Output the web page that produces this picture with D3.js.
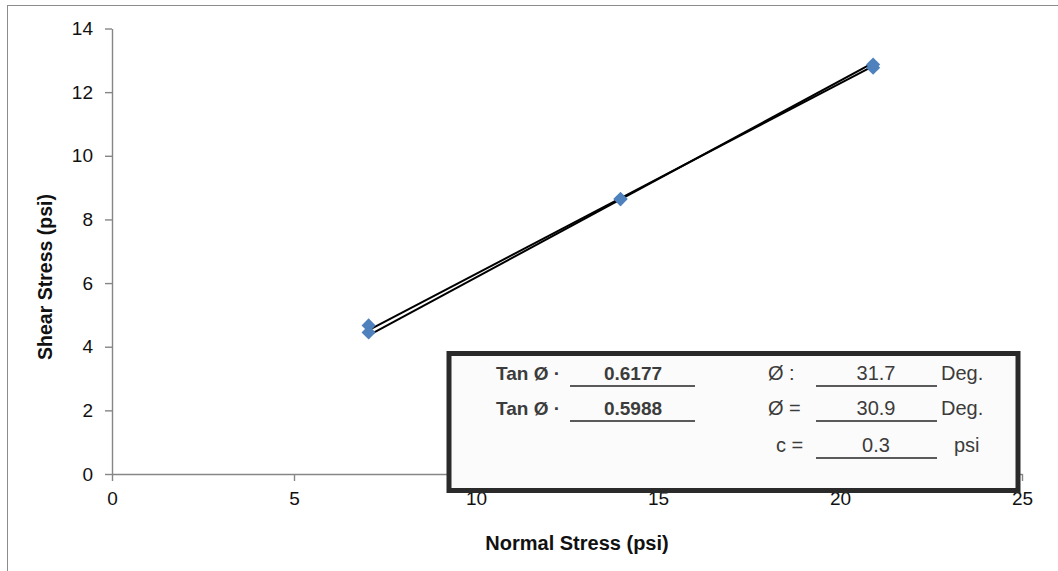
<!DOCTYPE html>
<html>
<head>
<meta charset="utf-8">
<script src="https://cdn.jsdelivr.net/npm/d3@7"></script>
<style>
  html, body { margin: 0; padding: 0; background: #fff; }
  svg { display: block; }
</style>
</head>
<body>
<svg id="chart" width="1058" height="571"></svg>
<script>
// Direct shear test results
const normalStress = [7.05, 13.97, 20.91];
const shearPeak = [4.67, 8.64, 12.87];
const shearResidual = [4.45, 8.64, 12.77];

// Strength envelopes: tan(phi) and cohesion c
const envTan = [0.6177, 0.5988];
const envC = [0, 0.3];
const envPhi = ["31.7", "30.9"];
const cohesionText = "0.3";

const xTicks = [0, 5, 10, 15, 20, 25];
const yTicks = [0, 2, 4, 6, 8, 10, 12, 14];

const svg = d3.select("#chart");
const font = "'Liberation Sans', Arial, sans-serif";

// Chart area frame
svg.append("rect")
  .attr("x", 7.5).attr("y", 5.5)
  .attr("width", 1100).attr("height", 600)
  .attr("fill", "none").attr("stroke", "#8c8c8c").attr("stroke-width", 1);

const x = d3.scaleLinear().domain([0, 25]).range([112, 1022]);
const y = d3.scaleLinear().domain([0, 14]).range([474, 28.5]);

// Axes
const xAxis = svg.append("g")
  .attr("transform", `translate(0,${y(0)})`)
  .call(d3.axisBottom(x).tickValues(xTicks).tickSize(7).tickSizeOuter(0).tickPadding(11));
const yAxis = svg.append("g")
  .attr("transform", `translate(${x(0)},0)`)
  .call(d3.axisLeft(y).tickValues(yTicks).tickSize(7).tickSizeOuter(0).tickPadding(12));

[xAxis, yAxis].forEach(g => {
  g.select(".domain").attr("stroke", "#868686").attr("stroke-width", 1.4);
  g.selectAll(".tick line").attr("stroke", "#868686").attr("stroke-width", 1.4);
  g.selectAll(".tick text")
    .attr("font-family", font).attr("font-size", 19).attr("fill", "#111");
});

// Axis titles
svg.append("text")
  .attr("x", 577).attr("y", 550)
  .attr("text-anchor", "middle")
  .attr("font-family", font).attr("font-size", 20).attr("font-weight", "bold")
  .attr("fill", "#111")
  .text("Normal Stress (psi)");

svg.append("text")
  .attr("transform", "translate(52,277) rotate(-90)")
  .attr("text-anchor", "middle")
  .attr("font-family", font).attr("font-size", 19.5).attr("font-weight", "bold")
  .attr("fill", "#111")
  .text("Shear Stress (psi)");

// Envelope lines from tan(phi) and c
const xMin = d3.min(normalStress), xMax = d3.max(normalStress);
envTan.forEach((t, i) => {
  const c = envC[i];
  svg.append("line")
    .attr("x1", x(xMin)).attr("y1", y(c + t * xMin))
    .attr("x2", x(xMax)).attr("y2", y(c + t * xMax))
    .attr("stroke", "#000").attr("stroke-width", 2);
});

// Diamond markers
const diamond = d3.symbol().type(d3.symbolSquare).size(100);
[shearResidual, shearPeak].forEach(series => {
  svg.append("g").selectAll("path")
    .data(normalStress.map((n, i) => [n, series[i]]))
    .join("path")
    .attr("d", diamond)
    .attr("transform", d => `translate(${x(d[0])},${y(d[1])}) rotate(45)`)
    .attr("fill", "#4f81bd");
});

// Results box
const box = svg.append("g");
box.append("rect")
  .attr("x", 449).attr("y", 353.5).attr("width", 569).attr("height", 137)
  .attr("fill", "#fbfbfb").attr("stroke", "#2a2a2a").attr("stroke-width", 5);

const txt = (g, tx, ty, s, opts = {}) => g.append("text")
  .attr("x", tx).attr("y", ty)
  .attr("text-anchor", opts.anchor || "start")
  .attr("font-family", font).attr("font-size", opts.size || 20)
  .attr("font-weight", opts.bold ? "bold" : "normal")
  .attr("fill", opts.fill || "#3c3c3c")
  .text(s);

const rowY = [380, 415, 452];
const ulY = [386, 421, 458];
const uline = (x1, x2, yy) => box.append("line")
  .attr("x1", x1).attr("x2", x2).attr("y1", yy).attr("y2", yy)
  .attr("stroke", "#5a5a5a").attr("stroke-width", 2);

envTan.forEach((t, i) => {
  txt(box, 496, rowY[i], "Tan Ø ·", { bold: true, size: 19 });
  txt(box, 633, rowY[i], t.toFixed(4), { bold: true, anchor: "middle", size: 19 });
  uline(570, 695, ulY[i]);
  txt(box, 768, rowY[i], i === 0 ? "Ø :" : "Ø =");
  txt(box, 876, rowY[i], envPhi[i], { anchor: "middle" });
  txt(box, 941, rowY[i], "Deg.");
  uline(816, 937, ulY[i]);
});
txt(box, 776, rowY[2], "c =");
txt(box, 876, rowY[2], cohesionText, { anchor: "middle" });
txt(box, 954, rowY[2], "psi");
uline(816, 937, ulY[2]);
</script>
</body>
</html>
